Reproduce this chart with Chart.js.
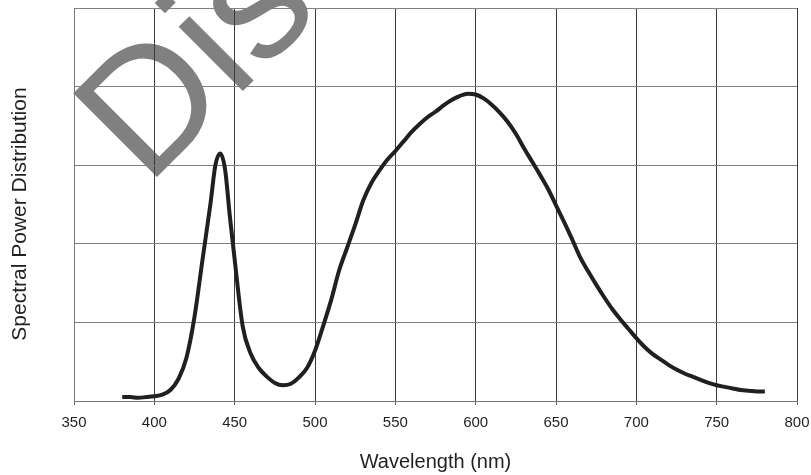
<!DOCTYPE html>
<html>
<head>
<meta charset="utf-8">
<script src="https://cdn.jsdelivr.net/npm/chart.js@4.4.0/dist/chart.umd.min.js"></script>
<style>
  html, body { margin: 0; padding: 0; background: #fff; }
  #wrap { width: 811px; height: 475px; }
</style>
</head>
<body>
<div id="wrap"><canvas id="grafico"></canvas></div>
<script>
// comprimentos de onda (nm) e valores
const comprimentos = [380, 385, 390, 395, 400, 405, 410, 415, 420, 425, 430, 435, 438, 441, 444, 447, 450,
    455, 460, 465, 470, 475, 480, 485, 490, 495, 500, 505, 510, 515, 520, 525, 530, 535, 540, 545, 550,
    555, 560, 565, 570, 575, 580, 585, 590, 595, 600, 605, 610, 615, 620, 625, 630, 635, 640, 645, 650,
    655, 660, 665, 670, 675, 680, 685, 690, 695, 700, 705, 710, 715, 720, 725, 730, 735, 740, 745, 750,
    755, 760, 765, 770, 775, 780];
const potencia = [0.05, 0.05, 0.04, 0.05, 0.06, 0.08, 0.14, 0.28, 0.55, 1.07, 1.80, 2.52, 3.00, 3.15, 2.95, 2.35, 1.80,
    0.95, 0.60, 0.42, 0.31, 0.23, 0.20, 0.22, 0.30, 0.42, 0.64, 0.95, 1.28, 1.66, 1.95, 2.24, 2.55, 2.77, 2.93, 3.07, 3.18,
    3.30, 3.42, 3.52, 3.61, 3.68, 3.76, 3.83, 3.88, 3.91, 3.90, 3.85, 3.77, 3.67, 3.55, 3.40, 3.22, 3.05, 2.88, 2.70, 2.49,
    2.28, 2.06, 1.83, 1.65, 1.48, 1.32, 1.17, 1.04, 0.92, 0.80, 0.69, 0.60, 0.53, 0.46, 0.40, 0.35, 0.31, 0.27, 0.23, 0.20,
    0.18, 0.16, 0.14, 0.13, 0.12, 0.12];
const marcaDagua = 'Dis';
const tituloX = 'Wavelength (nm)';
const tituloY = 'Spectral Power Distribution';

Chart.defaults.font.family = "'Liberation Sans', Arial, Helvetica, sans-serif";
Chart.defaults.color = '#231f20';

// marca d'água cinza, desenhada antes da grade
const pluginMarca = {
    id: 'marca',
    beforeDraw(chart) {
        const ctx = chart.ctx;
        ctx.save();
        ctx.translate(147, 187);
        ctx.rotate(-Math.PI / 4);
        ctx.font = "172px 'Liberation Sans', Arial, sans-serif";
        ctx.fillStyle = '#808080';
        ctx.textBaseline = 'alphabetic';
        ctx.fillText(marcaDagua, 0, 0);
        ctx.restore();
    },
    // título do eixo Y (um pouco abaixo do centro, como no original)
    afterDraw(chart) {
        const ctx = chart.ctx;
        ctx.save();
        ctx.translate(20, 214);
        ctx.rotate(-Math.PI / 2);
        ctx.font = "21px 'Liberation Sans', Arial, sans-serif";
        ctx.fillStyle = '#231f20';
        ctx.textAlign = 'center';
        ctx.textBaseline = 'middle';
        ctx.fillText(tituloY, 0, 0);
        ctx.restore();
    }
};

const dados = comprimentos.map((x, i) => ({ x: x, y: potencia[i] }));

new Chart(document.getElementById('grafico'), {
    type: 'line',
    data: {
        datasets: [{
            data: dados,
            borderColor: '#231f20',
            borderWidth: 4,
            pointRadius: 0,
            cubicInterpolationMode: 'monotone',
            fill: false
        }]
    },
    options: {
        responsive: true,
        maintainAspectRatio: false,
        animation: false,
        layout: { padding: { left: 74, right: 14, top: 8, bottom: 0 } },
        plugins: { legend: { display: false }, tooltip: { enabled: false } },
        scales: {
            x: {
                type: 'linear',
                min: 350,
                max: 800,
                ticks: { stepSize: 50, padding: 9, font: { size: 15 }, color: '#231f20' },
                grid: { color: '#3a3a3a', tickColor: '#666', tickLength: 4 },
                border: { color: '#777' },
                title: { display: true, text: tituloX, font: { size: 20 }, padding: { top: 9, bottom: 1 }, color: '#231f20' },
                afterFit(escala) {
                    escala.paddingLeft = 0;
                    escala.paddingRight = 0;
                }
            },
            y: {
                min: 0,
                max: 5,
                ticks: { display: false, stepSize: 1 },
                grid: { color: '#808080', drawTicks: false },
                border: { color: '#777' }
            }
        }
    },
    plugins: [pluginMarca]
});
</script>
</body>
</html>
